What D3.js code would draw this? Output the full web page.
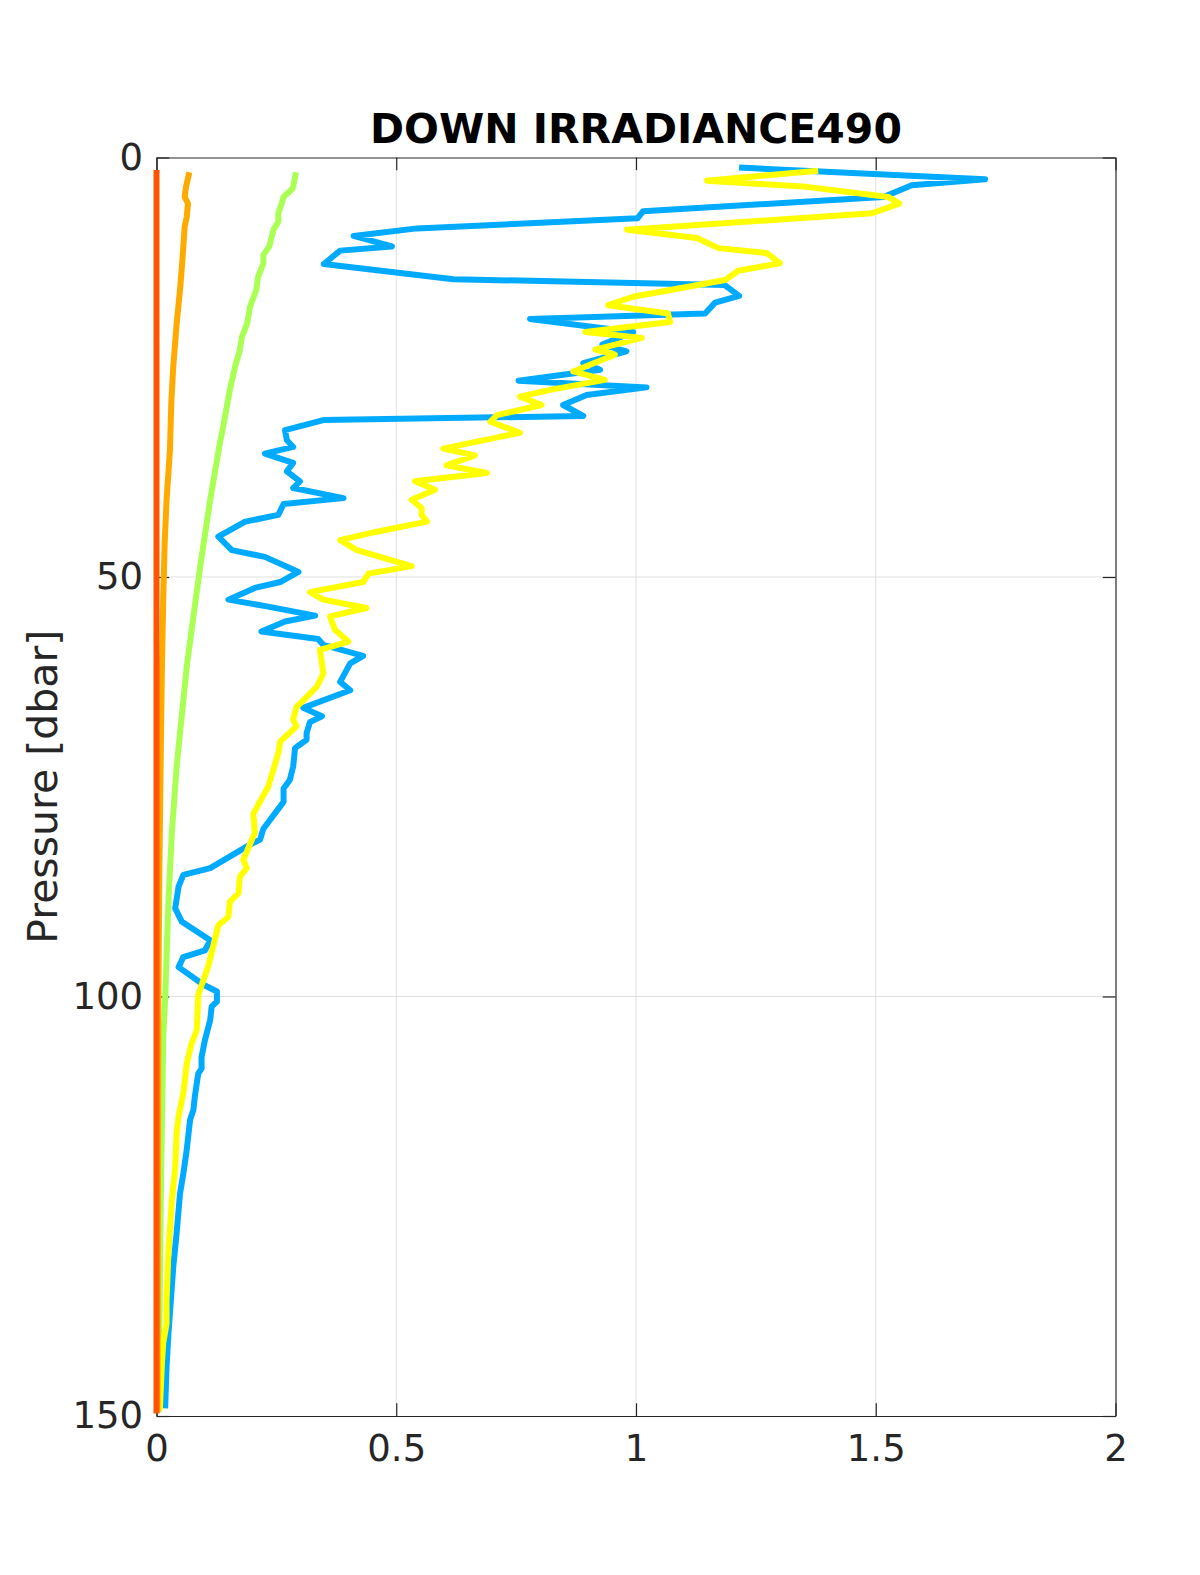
<!DOCTYPE html>
<html>
<head>
<meta charset="utf-8">
<script src="https://cdn.jsdelivr.net/npm/d3@7"></script>
<style>
  html, body { margin: 0; padding: 0; background: #fff; }
  svg { display: block; }
  text { font-family: "DejaVu Sans", sans-serif; }
</style>
</head>
<body>
<svg id="chart" width="1200" height="1575"></svg>
<script>
// ---- data (value, pressure) ----
const titleText = "DOWN IRRADIANCE490";
const yLabel = "Pressure [dbar]";
const xTicks = [0, 0.5, 1, 1.5, 2];
const yTicks = [0, 50, 100, 150];
const xTickLabels = ["0", "0.5", "1", "1.5", "2"];
const yTickLabels = ["0", "50", "100", "150"];

const blueV = [1.215,1.728,1.575,1.516,1.015,1.003,0.543,0.411,0.491,0.383,0.349,0.619,1.185,1.215,1.165,1.144,0.779,0.994,0.93,0.98,0.89,0.925,0.755,1.022,0.897,0.848,0.89,0.348,0.268,0.272,0.285,0.226,0.285,0.272,0.299,0.285,0.39,0.265,0.254,0.185,0.129,0.157,0.226,0.265,0.296,0.258,0.205,0.15,0.23,0.331,0.268,0.219,0.337,0.348,0.431,0.404,0.383,0.404,0.306,0.345,0.32,0.313,0.313,0.289,0.285,0.278,0.265,0.265,0.223,0.216,0.195,0.112,0.056,0.046,0.039,0.053,0.112,0.101,0.056,0.046,0.098,0.126,0.126,0.115,0.112,0.101,0.094,0.094,0.087,0.080,0.077,0.070,0.063,0.056,0.049,0.042,0.035,0.030,0.025,0.021,0.018];
const blueP = [1.2,2.6,3.3,4.7,6.4,7.25,8.45,9.35,10.6,11.1,12.7,14.5,15.2,16.5,17.3,18.6,19.25,20.8,22.3,23.1,24.5,25.3,26.6,27.4,28.3,29.5,30.8,31.3,32.5,33.7,34.5,35.3,36.4,37.4,38.6,39.4,40.6,41.3,42.6,43.4,45.2,46.8,47.6,48.6,49.4,50.6,51.3,52.7,53.5,54.6,55.3,56.5,57.4,58.1,59.4,60.3,62.5,63.5,65.6,66.6,67.3,68.6,69.4,70.4,72.6,74.2,75.2,76.8,80.0,81.3,81.9,84.7,85.5,86.9,89.5,91.1,93.3,94.5,95.3,96.5,98.6,99.4,100.6,101.2,102.8,105.2,107.2,108.6,109.2,111.9,113.5,114.7,118.3,121.1,123.5,128.2,132.2,136.2,140.1,144.1,149.1];

const yellowV = [1.38,1.148,1.356,1.526,1.549,1.492,0.981,1.127,1.172,1.273,1.30,1.213,1.186,0.994,0.942,1.067,1.071,0.894,1.012,0.915,0.956,0.869,0.935,0.821,0.758,0.803,0.71,0.696,0.758,0.598,0.664,0.605,0.689,0.539,0.581,0.532,0.553,0.553,0.564,0.459,0.383,0.418,0.532,0.442,0.431,0.32,0.348,0.438,0.362,0.372,0.40,0.341,0.348,0.334,0.292,0.285,0.292,0.258,0.254,0.233,0.202,0.205,0.181,0.188,0.174,0.171,0.153,0.150,0.129,0.108,0.087,0.084,0.073,0.063,0.056,0.046,0.042,0.039,0.032,0.025,0.021,0.021,0.014,0.011,0.007];
const yellowP = [1.57,2.76,3.5,4.7,5.5,6.65,8.6,9.6,10.8,11.4,12.6,13.5,14.6,16.6,17.6,18.6,19.6,20.8,21.5,22.9,23.5,25.5,26.5,27.7,28.5,29.5,30.7,31.5,32.8,34.7,35.5,36.7,37.6,38.6,39.6,40.8,41.8,42.6,43.4,44.6,45.6,46.8,48.7,49.6,50.6,51.8,52.7,53.7,54.7,56.3,57.7,58.7,61.5,63.1,65.5,67.0,67.8,69.6,71.0,75.0,78.2,80.5,83.7,84.7,85.7,87.7,88.7,90.5,91.5,96.4,99.8,104.0,105.6,108.0,111.5,114.3,116.3,120.3,124.3,130.2,136.2,139.0,141.3,144.1,149.3];

const greenV = [0.291,0.284,0.265,0.261,0.254,0.254,0.244,0.235,0.223,0.223,0.212,0.208,0.195,0.189,0.178,0.174,0.164,0.153,0.139,0.132,0.112,0.091,0.077,0.063,0.056,0.049,0.042,0.032,0.025,0.018,0.014,0.009,0.004];
const greenP = [1.76,3.7,4.7,5.5,6.65,7.65,8.6,10.6,11.6,12.6,14.2,15.8,17.8,19.8,21.4,22.9,24.9,27.7,32.1,34.1,40.8,48.8,54.7,60.7,64.7,68.6,72.6,80.5,88.5,100.4,105,124,149.6];

const orangeV = [0.0685,0.0615,0.0588,0.0657,0.063,0.0588,0.056,0.053,0.049,0.042,0.035,0.031,0.028,0.021,0.017,0.014,0.011,0.009,0.006,0.004,0.003,0.002];
const orangeP = [1.76,3.5,4.7,5.5,7.1,8.2,10.6,13,15.8,19.8,24.9,29,34.9,40.8,46,52.7,62,70.6,85,100,125,149.5];

const redV = [0.0,0.0,0.0,0.0];
const redP = [1.5,50,100,149.7];

const seriesColors = ["#00AAFF", "#AAFF55", "#FFFF00", "#FFAA00", "#FF5500"];

// ---- layout ----
const svg = d3.select("#chart");
const L = 156.5, R = 1115.5, T = 157.5, B = 1416;
const x = d3.scaleLinear().domain([0, 2]).range([L, R]);
const y = d3.scaleLinear().domain([0, 150]).range([T, B]);
const axisColor = "#262626";
const tickLen = 12.7;
const fs = 37;

svg.append("rect").attr("width", 1200).attr("height", 1575).attr("fill", "#fff");

// grid
const grid = svg.append("g");
grid.selectAll(".gx").data(xTicks.filter(d => d > 0 && d < 2)).enter().append("line")
  .attr("x1", d => x(d)).attr("x2", d => x(d)).attr("y1", T).attr("y2", B)
  .attr("stroke", "#dfdfdf").attr("stroke-width", 1);
grid.selectAll(".gy").data(yTicks.filter(d => d > 0 && d < 150)).enter().append("line")
  .attr("y1", d => y(d)).attr("y2", d => y(d)).attr("x1", L).attr("x2", R)
  .attr("stroke", "#dfdfdf").attr("stroke-width", 1);

// axes (drawn below the data, as in the reference)
function styleAxis(g) {
  g.select(".domain").attr("stroke", axisColor).attr("stroke-width", 1.2);
  g.selectAll(".tick line").attr("stroke", axisColor).attr("stroke-width", 1.2);
  g.selectAll(".tick text").attr("fill", axisColor).attr("font-size", fs)
    .attr("font-family", "DejaVu Sans, sans-serif");
}
svg.append("g").attr("transform", `translate(0,${B})`)
  .call(d3.axisBottom(x).tickValues(xTicks).tickFormat((d, i) => xTickLabels[i])
    .tickSizeInner(-tickLen).tickSizeOuter(0).tickPadding(19))
  .call(styleAxis);
svg.append("g").attr("transform", `translate(0,${T})`)
  .call(d3.axisTop(x).tickValues(xTicks).tickFormat("").tickSizeInner(-tickLen).tickSizeOuter(0))
  .call(styleAxis);
svg.append("g").attr("transform", `translate(${L},0)`)
  .call(d3.axisLeft(y).tickValues(yTicks).tickFormat((d, i) => yTickLabels[i])
    .tickSizeInner(-tickLen).tickSizeOuter(0).tickPadding(13.5))
  .call(styleAxis);
svg.append("g").attr("transform", `translate(${R},0)`)
  .call(d3.axisRight(y).tickValues(yTicks).tickFormat("").tickSizeInner(-tickLen).tickSizeOuter(0))
  .call(styleAxis);

// lines
const series = [
  {v: blueV, p: blueP, c: seriesColors[0]},
  {v: greenV, p: greenP, c: seriesColors[1]},
  {v: yellowV, p: yellowP, c: seriesColors[2]},
  {v: orangeV, p: orangeP, c: seriesColors[3]},
  {v: redV, p: redP, c: seriesColors[4]}
];
const line = d3.line().x(d => x(d[0])).y(d => y(d[1]));
svg.append("g").selectAll("path").data(series).enter().append("path")
  .attr("d", s => line(s.v.map((v, i) => [v, s.p[i]])))
  .attr("fill", "none").attr("stroke", s => s.c)
  .attr("stroke-width", 6).attr("stroke-linejoin", "round").attr("stroke-linecap", "butt");

// title
svg.append("text").attr("x", (L + R) / 2).attr("y", 142.5)
  .attr("text-anchor", "middle").attr("font-size", 41).attr("font-weight", "bold")
  .attr("fill", "#000").text(titleText);

// y label
svg.append("text").attr("transform", `translate(57,${(T + B) / 2}) rotate(-90)`)
  .attr("text-anchor", "middle").attr("font-size", 41).attr("fill", axisColor)
  .text(yLabel);
</script>
</body>
</html>
